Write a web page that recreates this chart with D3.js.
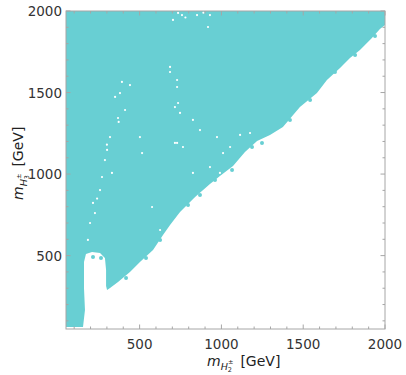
<!DOCTYPE html>
<html>
<head>
<meta charset="utf-8">
<script src="https://cdn.jsdelivr.net/npm/d3@7"></script>
<style>
  body { margin: 0; background: #fff; }
  text { font-family: "DejaVu Sans", Verdana, sans-serif; }
</style>
</head>
<body>
<div id="chartdiv"></div>
<script>
// outline of the allowed region (GeV)
var outlineX = [50, 2000, 2000, 1969, 1920, 1847, 1786, 1725, 1645, 1584, 1480, 1376, 1297, 1218, 1144, 1071, 991, 930, 839, 747, 686, 643, 582, 502, 441, 368, 319, 301, 295, 295, 288, 258, 209, 172, 160, 160, 166, 154, 50];
var outlineY = [2000, 2000, 1914, 1890, 1834, 1761, 1712, 1650, 1577, 1497, 1411, 1289, 1240, 1203, 1135, 1050, 988, 939, 859, 767, 688, 626, 534, 461, 400, 338, 301, 289, 314, 412, 485, 516, 522, 510, 461, 301, 167, 62, 62];

// loose points sitting on the ragged edge
var edgeX = [1187, 1248, 1065, 961, 869, 796, 625, 539, 417, 215, 264, 1419, 1542, 1694, 1817, 1939];
var edgeY = [1166, 1191, 1025, 964, 872, 810, 596, 485, 363, 491, 485, 1332, 1454, 1626, 1730, 1847];

// empty spots inside the region
var gapX = [368, 380, 350, 319, 301, 331, 270, 215, 227, 197, 625, 502, 515, 392, 686, 729, 716, 716, 576, 759, 851, 930, 918, 686, 729, 735, 747, 826, 729, 765, 869, 973, 1053, 1114, 1175, 1010, 930, 826, 991, 735, 704, 184, 258, 288, 411, 441, 372, 240, 300, 780, 890];
var gapY = [1344, 1497, 1473, 1227, 1148, 1007, 982, 823, 761, 700, 657, 1227, 1129, 1565, 1657, 1534, 1411, 1191, 798, 1975, 1975, 1975, 1902, 1626, 1577, 1436, 1375, 1332, 1191, 1166, 1270, 1227, 1166, 1240, 1252, 1129, 1043, 1007, 1007, 1988, 1945, 596, 902, 1086, 1393, 1546, 1320, 850, 1180, 1960, 1990];

var majorTicks = [500, 1000, 1500, 2000];
var minorTicks = d3.range(100, 2001, 100).filter(t => t % 500 != 0);

var fillColor = '#68cfd3';
var frameColor = '#a6a6a6';

var width = 406, height = 375;
var margin = {top: 11, right: 21, bottom: 46, left: 66};

var x = d3.scaleLinear().domain([50, 2000]).range([margin.left, width - margin.right]);
var y = d3.scaleLinear().domain([50, 2000]).range([height - margin.bottom, margin.top]);

var svg = d3.select("#chartdiv").append("svg")
  .attr("width", width)
  .attr("height", height);

svg.append("clipPath").attr("id", "plotclip")
  .append("rect")
    .attr("x", x(50)).attr("y", y(2000))
    .attr("width", x(2000) - x(50))
    .attr("height", y(50) - y(2000));

var plot = svg.append("g").attr("clip-path", "url(#plotclip)");

var outline = outlineX.map((v, i) => [v, outlineY[i]]);
plot.append("path")
  .datum(outline)
  .attr("d", d3.line().x(d => x(d[0])).y(d => y(d[1])).curve(d3.curveLinearClosed))
  .attr("fill", fillColor);

plot.selectAll(".edge")
    .data(edgeX.map((v, i) => [v, edgeY[i]]))
  .enter().append("circle")
    .attr("class", "edge")
    .attr("cx", d => x(d[0]))
    .attr("cy", d => y(d[1]))
    .attr("r", 2)
    .attr("fill", fillColor);

plot.selectAll(".gap")
    .data(gapX.map((v, i) => [v, gapY[i]]))
  .enter().append("circle")
    .attr("class", "gap")
    .attr("cx", d => x(d[0]))
    .attr("cy", d => y(d[1]))
    .attr("r", 1.1)
    .attr("fill", "#fff");

// frame with ticks on all four sides
var frame = svg.append("g");
frame.append("rect")
  .attr("x", x(50)).attr("y", y(2000))
  .attr("width", x(2000) - x(50))
  .attr("height", y(50) - y(2000))
  .attr("fill", "none")
  .attr("stroke", frameColor)
  .attr("stroke-width", 1);

function ticks(list, len) {
  list.forEach(t => {
    frame.append("line").attr("x1", x(t)).attr("x2", x(t)).attr("y1", y(50)).attr("y2", y(50) - len);
    frame.append("line").attr("x1", x(t)).attr("x2", x(t)).attr("y1", y(2000)).attr("y2", y(2000) + len);
    frame.append("line").attr("y1", y(t)).attr("y2", y(t)).attr("x1", x(50)).attr("x2", x(50) + len);
    frame.append("line").attr("y1", y(t)).attr("y2", y(t)).attr("x1", x(2000)).attr("x2", x(2000) - len);
  });
}
ticks(majorTicks, 4.5);
ticks(minorTicks, 2.5);
frame.selectAll("line").attr("stroke", frameColor).attr("stroke-width", 1);

svg.selectAll(".xlab")
    .data(majorTicks)
  .enter().append("text")
    .attr("class", "xlab")
    .attr("x", d => x(d))
    .attr("y", 349)
    .attr("text-anchor", "middle")
    .attr("font-size", "13.5px")
    .attr("fill", "#333")
    .text(d => d);

svg.selectAll(".ylab")
    .data(majorTicks)
  .enter().append("text")
    .attr("class", "ylab")
    .attr("x", 62)
    .attr("y", d => y(d) + 5)
    .attr("text-anchor", "end")
    .attr("font-size", "13.5px")
    .attr("fill", "#333")
    .text(d => d);

// axis titles: m_{H_n^±} [GeV]
function title(g, n) {
  var t = g.append("text").attr("font-size", "14px").attr("fill", "#222");
  t.append("tspan").attr("font-style", "italic").text("m");
  t.append("tspan").attr("font-style", "italic").attr("font-size", "9.5px").attr("dy", 3.5).text("H");
  t.append("tspan").attr("font-size", "6.5px").attr("dy", 2).text(n);
  t.append("tspan").attr("font-size", "6.5px").attr("dx", -4).attr("dy", -8).text("±");
  t.append("tspan").attr("dx", 7).attr("dy", 2.5).text("[GeV]");
  return t;
}

var xt = svg.append("g").attr("transform", "translate(207,366)");
title(xt, "2");

var yt = svg.append("g").attr("transform", "translate(23,200) rotate(-90)");
title(yt, "3");
</script>
</body>
</html>
